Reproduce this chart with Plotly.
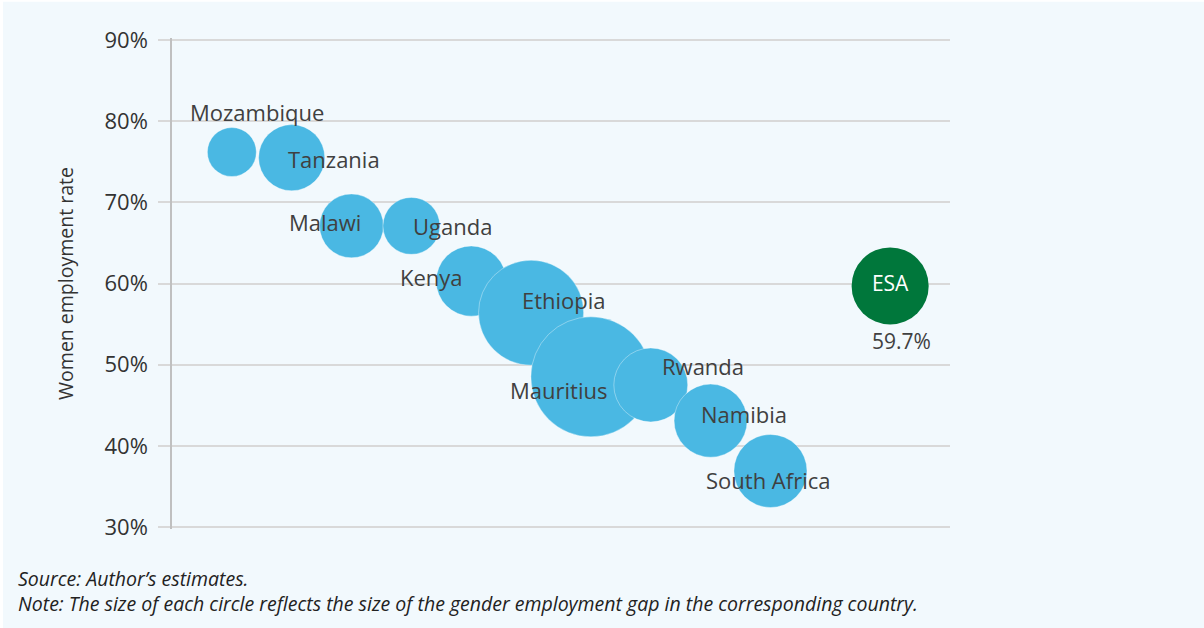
import plotly.graph_objects as go

# ---- data ----
countries = ["Mozambique", "Tanzania", "Malawi", "Uganda", "Kenya", "Ethiopia",
             "Mauritius", "Rwanda", "Namibia", "South Africa"]
women_emp = [76.2, 75.5, 67.1, 67.1, 60.3, 56.4, 48.5, 47.5, 43.1, 36.9]
gender_gap = [4.0, 7.3, 6.8, 5.4, 8.2, 18.4, 24.0, 9.1, 8.9, 8.9]
esa_label = "ESA"
esa_emp = 59.7
esa_gap = 9.9
y_ticks = [30, 40, 50, 60, 70, 80, 90]
source_note = "Source: Author’s estimates."
size_note = "Note: The size of each circle reflects the size of the gender employment gap in the corresponding country."

# ---- styling ----
BLUE = "#4ab8e3"
GREEN = "#00773b"
BG = "#f2f9fd"
TXT = "#404040"
FONT = "Open Sans"

x_pos = list(range(1, len(countries) + 1))
esa_x = len(countries) + 2
max_d = 120
sizeref = 2 * max(gender_gap + [esa_gap]) / max_d ** 2

fig = go.Figure()
fig.add_trace(go.Scatter(
    x=x_pos, y=women_emp, mode="markers",
    marker=dict(size=gender_gap, sizemode="area", sizeref=sizeref, color=BLUE,
                opacity=1, line=dict(color="rgba(255,255,255,0.45)", width=0.8)),
    hoverinfo="text", text=countries, showlegend=False))
fig.add_trace(go.Scatter(
    x=[esa_x], y=[esa_emp], mode="markers+text",
    marker=dict(size=[esa_gap], sizemode="area", sizeref=sizeref, color=GREEN,
                opacity=1, line=dict(width=0)),
    text=[esa_label], textposition="middle center",
    textfont=dict(family=FONT, size=21, color="white"),
    hoverinfo="text", showlegend=False))

# label offsets (px) relative to bubble centres
offsets = {
    "Mozambique": (25, 40), "Tanzania": (42, -1), "Malawi": (-27, 4),
    "Uganda": (41, 0), "Kenya": (-40, 4), "Ethiopia": (33, 13),
    "Mauritius": (-32, -13), "Rwanda": (52, 19), "Namibia": (33, 7),
    "South Africa": (-2, -9),
}
for xc, yv, name in zip(x_pos, women_emp, countries):
    dx, dy = offsets[name]
    fig.add_annotation(x=xc, y=yv, text=name, showarrow=False,
                       xshift=dx, yshift=dy, xanchor="center", yanchor="middle",
                       font=dict(family=FONT, size=22, color=TXT))
fig.add_annotation(x=esa_x, y=esa_emp, text=f"{esa_emp:.1f}%", showarrow=False,
                   xshift=11, yshift=-55, font=dict(family=FONT, size=21, color=TXT))

# footnotes (one block, two lines)
fig.add_annotation(xref="paper", yref="paper", x=-0.2005, y=-0.127,
                   xanchor="left", yanchor="middle", align="left", showarrow=False,
                   text=f"<i>{source_note}</i><br><i>{size_note}</i>",
                   font=dict(family=FONT, size=19.5, color="#222222"))

# light background panel with thin white border at top/left
fig.add_shape(type="rect", xref="paper", yref="paper", layer="below",
              x0=-0.2172, x1=1.4, y0=-0.25, y1=1.0739,
              fillcolor=BG, line=dict(width=0))

fig.update_layout(
    width=1204, height=628,
    margin=dict(l=172, r=254, t=38, b=99),
    paper_bgcolor="white", plot_bgcolor=BG,
    font=dict(family=FONT, color=TXT),
    xaxis=dict(range=[0, 13], showgrid=False, zeroline=False, showline=False,
               showticklabels=False, ticks=""),
    yaxis=dict(range=[29.75, 90.25], tickvals=y_ticks, ticktext=[f"{v}%" for v in y_ticks],
               showgrid=True, gridcolor="#d9d9d9", gridwidth=2, zeroline=False,
               ticks="outside", ticklen=12, tickcolor="#d9d9d9", tickwidth=2,
               showline=True, linecolor="#c0c0c0", linewidth=1.5,
               ticklabelstandoff=6,
               tickfont=dict(family=FONT, size=22, color="#333333"),
               title=dict(text="Women employment rate", standoff=26,
                          font=dict(family=FONT, size=19.5, color="#333333"))),
)

fig.write_html("out.html", config={"displayModeBar": False},
               post_script="document.body.style.margin='0';")
